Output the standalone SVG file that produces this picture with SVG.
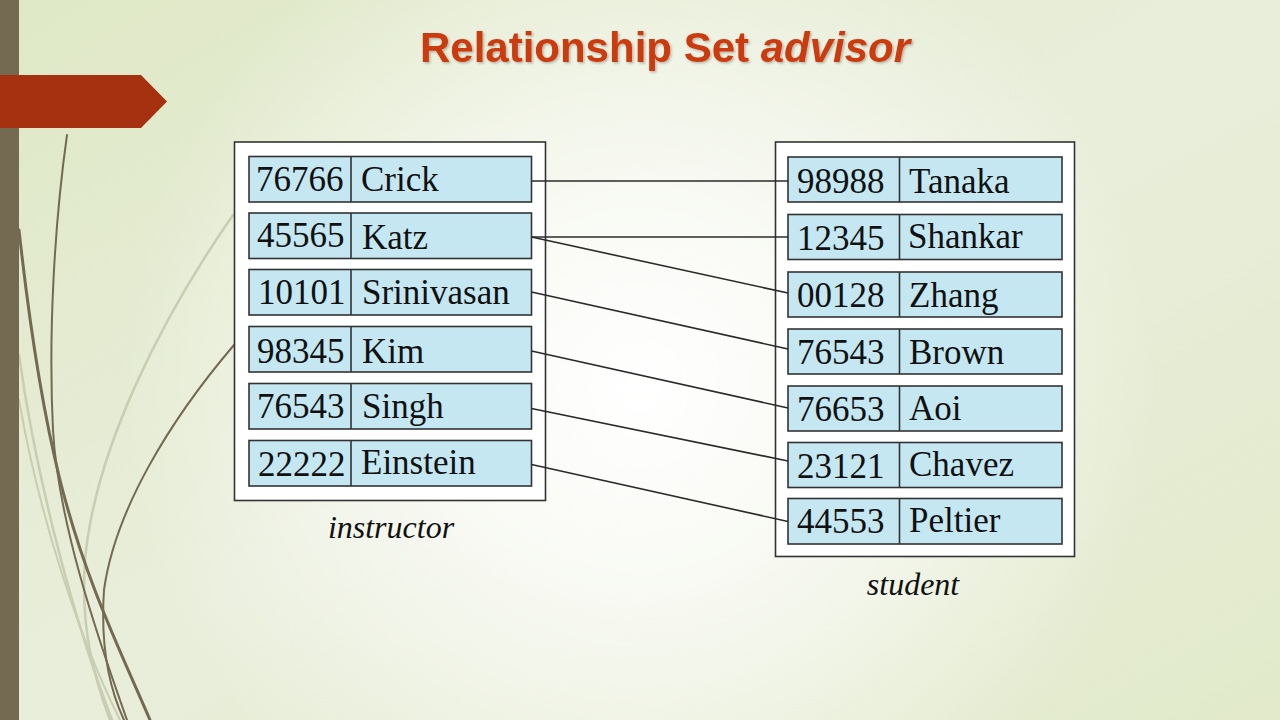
<svg xmlns="http://www.w3.org/2000/svg" width="1280" height="720" viewBox="0 0 1280 720">
  <defs>
    <linearGradient id="bgBase" x1="0" y1="0" x2="1" y2="1">
      <stop offset="0" stop-color="#dfe8c6"/>
      <stop offset="0.5" stop-color="#e9eedb"/>
      <stop offset="1" stop-color="#e2eacb"/>
    </linearGradient>
    <radialGradient id="bgGlow" cx="640" cy="390" r="520" gradientUnits="userSpaceOnUse">
      <stop offset="0" stop-color="#ffffff" stop-opacity="1"/>
      <stop offset="0.35" stop-color="#ffffff" stop-opacity="0.75"/>
      <stop offset="1" stop-color="#ffffff" stop-opacity="0"/>
    </radialGradient>
    <filter id="titleShadow" x="-5%" y="-20%" width="110%" height="150%">
      <feDropShadow dx="1.5" dy="1.5" stdDeviation="0.8" flood-color="#000" flood-opacity="0.25"/>
    </filter>
    <style>
      .cell { fill: #c4e7f2; stroke: #333333; stroke-width: 1.6; }
      .frame { fill: #ffffff; stroke: #333333; stroke-width: 1.6; }
      .txt { font-family: "Liberation Serif", "Times New Roman", serif; font-size: 35px; fill: #111111; }
      .cap { font-family: "Liberation Serif", "Times New Roman", serif; font-size: 32px; font-style: italic; fill: #111111; text-anchor: middle; }
      .link { stroke: #2a2a2a; stroke-width: 1.6; fill: none; }
      .vineDark { stroke: #736a51; fill: none; stroke-linecap: round; }
      .vineLight { stroke: #c9cdb2; fill: none; stroke-linecap: round; }
    </style>
  </defs>

  <!-- background -->
  <rect x="0" y="0" width="1280" height="720" fill="url(#bgBase)"/>
  <rect x="0" y="0" width="1280" height="720" fill="url(#bgGlow)"/>

  <!-- decorative vines on the left -->
  <g id="vines">
    <path class="vineLight" stroke-width="2.5" d="M233 215 C 160 320, 95 450, 85 560 C 80 630, 95 680, 110 720"/>
    <path class="vineLight" stroke-width="2.5" d="M19 355 C 35 470, 70 610, 112 720"/>
    <path class="vineLight" stroke-width="2" d="M19 400 C 40 520, 80 640, 120 720"/>
    <path class="vineDark" stroke-width="3" d="M19 230 C 30 330, 45 420, 60 480 C 85 580, 120 650, 150 720"/>
    <path class="vineDark" stroke-width="2" d="M67 135 C 55 220, 48 330, 53 430 C 58 520, 95 630, 127 720"/>
    <path class="vineDark" stroke-width="2" d="M234 345 C 170 420, 115 510, 104 590 C 100 650, 110 690, 124 720"/>
  </g>

  <!-- sidebar and banner -->
  <rect x="0" y="0" width="19" height="720" fill="#736a51"/>
  <path d="M0 75 L141 75 L167 101.5 L141 128 L0 128 Z" fill="#a53111"/>

  <!-- title -->
  <text x="665" y="62" text-anchor="middle" filter="url(#titleShadow)" font-family="'Liberation Sans', Arial, sans-serif" font-size="42" font-weight="bold" fill="#cc3a0e">Relationship Set <tspan font-style="italic">advisor</tspan></text>

  <!-- instructor entity set -->
  <g id="instructor">
    <rect class="frame" x="234.5" y="142" width="311" height="358.5"/>
    <g id="i-76766">
      <rect class="cell" x="249" y="156.5" width="282.5" height="45.5"/>
      <line class="cell" x1="351" y1="156.5" x2="351" y2="202"/>
      <text class="txt" x="256" y="191">76766</text>
      <text class="txt" x="361" y="191">Crick</text>
    </g>
    <g id="i-45565">
      <rect class="cell" x="249" y="213" width="282.5" height="45.5"/>
      <line class="cell" x1="351" y1="213" x2="351" y2="258.5"/>
      <text class="txt" x="257" y="247">45565</text>
      <text class="txt" x="362" y="249">Katz</text>
    </g>
    <g id="i-10101">
      <rect class="cell" x="249" y="269.5" width="282.5" height="45.5"/>
      <line class="cell" x1="351" y1="269.5" x2="351" y2="315"/>
      <text class="txt" x="258" y="304">10101</text>
      <text class="txt" x="362" y="304">Srinivasan</text>
    </g>
    <g id="i-98345">
      <rect class="cell" x="249" y="326.5" width="282.5" height="45.5"/>
      <line class="cell" x1="351" y1="326.5" x2="351" y2="372"/>
      <text class="txt" x="257" y="363">98345</text>
      <text class="txt" x="362" y="363">Kim</text>
    </g>
    <g id="i-76543">
      <rect class="cell" x="249" y="383.5" width="282.5" height="45.5"/>
      <line class="cell" x1="351" y1="383.5" x2="351" y2="429"/>
      <text class="txt" x="257" y="418">76543</text>
      <text class="txt" x="362" y="418">Singh</text>
    </g>
    <g id="i-22222">
      <rect class="cell" x="249" y="440.5" width="282.5" height="45.5"/>
      <line class="cell" x1="351" y1="440.5" x2="351" y2="486"/>
      <text class="txt" x="258" y="476">22222</text>
      <text class="txt" x="361" y="474">Einstein</text>
    </g>
    <text class="cap" x="391" y="538">instructor</text>
  </g>

  <!-- student entity set -->
  <g id="student">
    <rect class="frame" x="775.5" y="142" width="299" height="414.5"/>
    <g id="s-98988">
      <rect class="cell" x="788" y="157" width="274" height="45"/>
      <line class="cell" x1="899.5" y1="157" x2="899.5" y2="202"/>
      <text class="txt" x="797" y="193">98988</text>
      <text class="txt" x="909" y="193">Tanaka</text>
    </g>
    <g id="s-12345">
      <rect class="cell" x="788" y="214.5" width="274" height="45"/>
      <line class="cell" x1="899.5" y1="214.5" x2="899.5" y2="259.5"/>
      <text class="txt" x="797" y="250">12345</text>
      <text class="txt" x="908" y="248">Shankar</text>
    </g>
    <g id="s-00128">
      <rect class="cell" x="788" y="272" width="274" height="45"/>
      <line class="cell" x1="899.5" y1="272" x2="899.5" y2="317"/>
      <text class="txt" x="797" y="307">00128</text>
      <text class="txt" x="909" y="307">Zhang</text>
    </g>
    <g id="s-76543">
      <rect class="cell" x="788" y="329" width="274" height="45"/>
      <line class="cell" x1="899.5" y1="329" x2="899.5" y2="374"/>
      <text class="txt" x="797" y="364">76543</text>
      <text class="txt" x="909" y="364">Brown</text>
    </g>
    <g id="s-76653">
      <rect class="cell" x="788" y="386" width="274" height="45"/>
      <line class="cell" x1="899.5" y1="386" x2="899.5" y2="431"/>
      <text class="txt" x="797" y="421">76653</text>
      <text class="txt" x="909" y="420">Aoi</text>
    </g>
    <g id="s-23121">
      <rect class="cell" x="788" y="442.5" width="274" height="45"/>
      <line class="cell" x1="899.5" y1="442.5" x2="899.5" y2="487.5"/>
      <text class="txt" x="797" y="478">23121</text>
      <text class="txt" x="909" y="476">Chavez</text>
    </g>
    <g id="s-44553">
      <rect class="cell" x="788" y="498.5" width="274" height="45.5"/>
      <line class="cell" x1="899.5" y1="498.5" x2="899.5" y2="544"/>
      <text class="txt" x="797" y="533">44553</text>
      <text class="txt" x="909" y="532">Peltier</text>
    </g>
    <text class="cap" x="913" y="595">student</text>
  </g>

  <!-- connectors: advisor pairs, drawn across the frame margins -->
  <g id="connectors">
    <line class="link" x1="531.5" y1="181" x2="788" y2="181"/>
    <line class="link" x1="531.5" y1="237" x2="788" y2="237"/>
    <line class="link" x1="531.5" y1="237" x2="788" y2="293"/>
    <line class="link" x1="531.5" y1="292" x2="788" y2="349"/>
    <line class="link" x1="531.5" y1="351" x2="788" y2="408"/>
    <line class="link" x1="531.5" y1="408.5" x2="788" y2="461"/>
    <line class="link" x1="531.5" y1="464.5" x2="788" y2="521.5"/>
  </g>
</svg>
